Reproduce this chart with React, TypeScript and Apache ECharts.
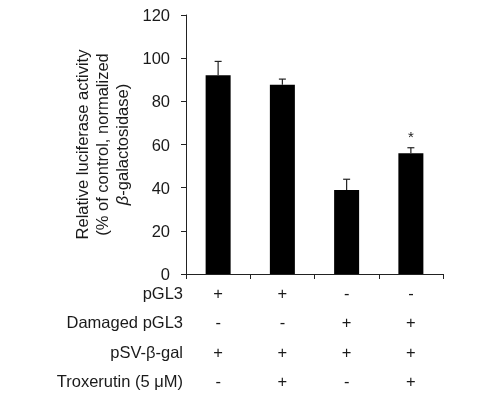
import React, { useEffect, useRef } from "react";
import * as echarts from "echarts";

const groups = ["G1", "G2", "G3", "G4"];
const means = [92.1, 87.7, 38.9, 55.9];
const errors = [6.4, 2.6, 5.0, 2.6];
const significance = ["", "", "", "*"];
const yTicks = { min: 0, max: 120, interval: 20 };

const rowLabels = ["pGL3", "Damaged pGL3", "pSV-β-gal", "Troxerutin (5 μM)"];
const rowPGL3 = ["+", "+", "-", "-"];
const rowDamaged = ["-", "-", "+", "+"];
const rowPSV = ["+", "+", "+", "+"];
const rowTrox = ["-", "+", "-", "+"];
const rows = [rowPGL3, rowDamaged, rowPSV, rowTrox];

const FONT = "'Liberation Sans', Arial, sans-serif";
const TEXT = "#1a1a1a";
const LINE = "#222";
const FS = 16.5;

export default function App() {
  const ref = useRef<HTMLDivElement>(null);
  useEffect(() => {
    if (!ref.current) return;
    const chart = echarts.init(ref.current, undefined, { renderer: "svg" });
    const rowOffsets = [19, 48, 78, 107];
    const rowAxes = rows.map((row, r) => ({
      type: "category",
      data: groups,
      gridIndex: 0,
      position: "bottom",
      offset: rowOffsets[r],
      axisLine: { show: false, onZero: false },
      axisTick: { show: false },
      axisLabel: {
        margin: 0,
        verticalAlign: "middle",
        fontFamily: FONT,
        fontSize: FS,
        color: TEXT,
        formatter: (_v: string, i: number) => row[i],
      },
      name: rowLabels[r],
      nameLocation: "start",
      nameGap: 3,
      nameTextStyle: { fontFamily: FONT, fontSize: FS, color: TEXT, verticalAlign: "middle" },
    }));
    chart.setOption({
      animation: false,
      grid: { left: 186, right: 50, top: 15, bottom: 122, containLabel: false },
      xAxis: [
        {
          type: "category",
          data: groups,
          position: "bottom",
          axisLine: { show: true, onZero: false, lineStyle: { color: LINE, width: 1 } },
          axisTick: { show: true, length: 5, lineStyle: { color: LINE } },
          axisLabel: { show: false },
        },
        ...rowAxes,
      ],
      yAxis: {
        type: "value",
        min: yTicks.min,
        max: yTicks.max,
        interval: yTicks.interval,
        splitLine: { show: false },
        axisLine: { show: true, lineStyle: { color: LINE, width: 1 } },
        axisTick: { show: true, length: 5, lineStyle: { color: LINE } },
        axisLabel: { margin: 16, fontFamily: FONT, fontSize: FS, color: TEXT },
        name: "Relative luciferase activity\n(% of control, normalized\n{i|β}-galactosidase)",
        nameLocation: "middle",
        nameGap: 42,
        nameTextStyle: {
          fontFamily: FONT,
          fontSize: FS,
          color: TEXT,
          lineHeight: 20,
          align: "center",
          rich: {
            i: { fontStyle: "italic", fontFamily: FONT, fontSize: FS, color: TEXT, lineHeight: 20 },
          },
        },
      },
      series: [
        {
          type: "bar",
          xAxisIndex: 0,
          data: means,
          barWidth: 25,
          itemStyle: { color: "#000" },
        },
        {
          type: "custom",
          xAxisIndex: 0,
          data: means.map((m, i) => [i, m, errors[i]]),
          renderItem: (params: any, api: any) => {
            const i = api.value(0);
            const m = api.value(1);
            const e = api.value(2);
            const base = api.coord([i, m]);
            const top = api.coord([i, m + e]);
            const cap = 3.5;
            const children: any[] = [
              {
                type: "line",
                shape: { x1: base[0], y1: base[1], x2: top[0], y2: top[1] },
                style: { stroke: LINE, lineWidth: 1.2 },
              },
              {
                type: "line",
                shape: { x1: top[0] - cap, y1: top[1], x2: top[0] + cap, y2: top[1] },
                style: { stroke: LINE, lineWidth: 1.2 },
              },
            ];
            const s = significance[params.dataIndex];
            if (s) {
              children.push({
                type: "text",
                style: {
                  text: s,
                  x: top[0],
                  y: top[1] - 4,
                  align: "center",
                  verticalAlign: "bottom",
                  fontFamily: FONT,
                  fontSize: 15,
                  fill: TEXT,
                },
              });
            }
            return { type: "group", children };
          },
          z: 3,
        },
      ],
    });
    return () => chart.dispose();
  }, []);
  return (
    <div
      ref={ref}
      style={{ position: "fixed", left: 0, top: 0, width: 493, height: 396 }}
    />
  );
}
